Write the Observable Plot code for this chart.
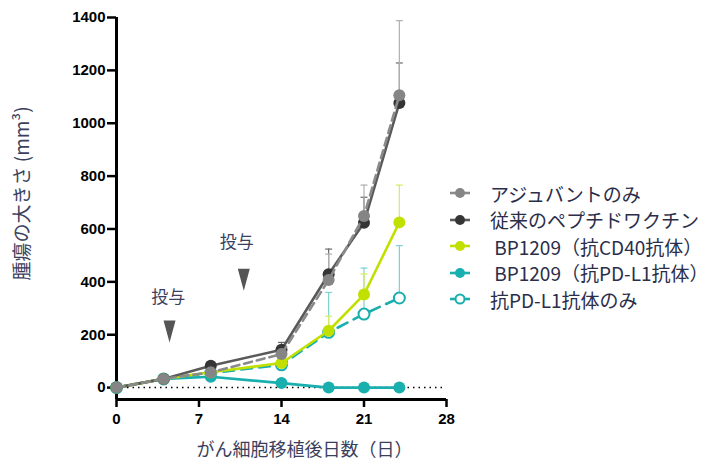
<!DOCTYPE html>
<html><head><meta charset="utf-8">
<script src="https://cdn.jsdelivr.net/npm/d3@7"></script>
<script src="https://cdn.jsdelivr.net/npm/@observablehq/plot@0.6"></script>
<style>
body{margin:0;background:#fff;}
#wrap{position:relative;width:709px;height:462px;overflow:hidden;}
#legend{position:absolute;left:450px;top:180px;font-family:"Noto Sans CJK JP";font-size:19px;color:#2b2e4a;}
.row{height:26.5px;display:flex;align-items:center;white-space:pre;}
.row svg{margin-right:20px;flex:none;}
</style></head><body><div id="wrap"></div>
<script>
// ---- data ----
const days = [0, 4, 8, 14, 18, 21, 24];
const seriesNames = ["アジュバントのみ", "従来のペプチドワクチン", " BP1209（抗CD40抗体）", " BP1209（抗PD-L1抗体）", "抗PD-L1抗体のみ"];
const adjuvant   = [0, 33, 58, 127, 407, 649, 1106];
const peptide    = [0, 33, 83, 143, 429, 624, 1077];
const cd40       = [0, 33, 58, 93, 215, 352, 625];
const pdl1Bp     = [0, 33, 41, 17, 0, 0, 0];
const pdl1Only   = [0, 33, 55, 86, 209, 278, 339];
// upper end of error bars (null = not visible)
const adjuvantUpper = [null, null, null, 155, 505, 766, 1388];
const peptideUpper  = [null, null, null, 171, 524, 720, 1228];
const cd40Upper     = [null, null, null, null, 270, 430, 766];
const pdl1BpUpper   = [null, null, null, null, null, null, null];
const pdl1OnlyUpper = [null, null, null, null, 360, 452, 537];
const yTicks = [0, 200, 400, 600, 800, 1000, 1200, 1400];
const xTicks = [0, 7, 14, 21, 28];
const doseLabel = "投与";
const doseDays = [4.5, 10.8];
const doseArrowY = [212, 408];
const doseLabelDays = [4.4, 10.2];
const doseLabelY = [340, 548];
const xTitle = "がん細胞移植後日数（日）";
const yTitle = "腫瘍の大きさ (mm³)";

// ---- styles ----
const styles = [
  {line: "#8a8a8a", dot: "#858585", err: "#b0b0b0", dash: "8,5", open: false},
  {line: "#5a5a5a", dot: "#353535", err: "#6a6a6a", dash: null, open: false},
  {line: "#c2e000", dot: "#c2e000", err: "#d6ec66", dash: null, open: false},
  {line: "#1aafaf", dot: "#1aafaf", err: "#7fd2d2", dash: null, open: false},
  {line: "#1aafaf", dot: "#1aafaf", err: "#7fd2d2", dash: "11,7", open: true}
];
const values = [adjuvant, peptide, cd40, pdl1Bp, pdl1Only];
const uppers = [adjuvantUpper, peptideUpper, cd40Upper, pdl1BpUpper, pdl1OnlyUpper];

const table = seriesNames.map((name, i) => days.map((d, j) => ({series: i, name, day: d, value: values[i][j], upper: uppers[i][j]})));
const drawOrder = [3, 4, 2, 1, 0];

const capSymbol = {draw(ctx) { ctx.moveTo(-3.5, 0); ctx.lineTo(3.5, 0); }};
const downTri = {draw(ctx) { ctx.moveTo(-6, -11); ctx.lineTo(6, -11); ctx.lineTo(0, 11); ctx.closePath(); }};

const marks = [
  Plot.ruleY([0], {stroke: "#000", strokeWidth: 1.5, strokeDasharray: "1.5,4"}),
  Plot.ruleX([0], {stroke: "#000", strokeWidth: 3}),
  Plot.ruleY([-45], {stroke: "#000", strokeWidth: 3}),
  Plot.axisY({ticks: yTicks, tickSize: 9, tickPadding: 2, tickFormat: d => String(d), label: null,
    fontSize: 15, fontWeight: "bold", fontFamily: "Liberation Sans", stroke: "#000", strokeWidth: 2.5, fill: "#000"}),
  Plot.axisX({ticks: xTicks, tickSize: 8, tickPadding: 6, tickFormat: d => String(d), label: null,
    fontSize: 15, fontWeight: "bold", fontFamily: "Liberation Sans", stroke: "#000", strokeWidth: 2.5, fill: "#000"}),
];
for (const i of drawOrder) {
  const s = styles[i];
  const errs = table[i].filter(d => d.upper != null);
  marks.push(Plot.ruleX(errs, {x: "day", y1: "value", y2: "upper", stroke: s.err, strokeWidth: 1.2}));
  marks.push(Plot.dot(errs, {x: "day", y: "upper", symbol: capSymbol, stroke: s.err, strokeWidth: 1.2}));
}
for (const i of drawOrder) {
  const s = styles[i];
  marks.push(Plot.line(table[i], {x: "day", y: "value", stroke: s.line, strokeWidth: 2.6, strokeDasharray: s.dash}));
  marks.push(Plot.dot(table[i], {x: "day", y: "value", r: s.open ? 5.5 : 6, fill: s.open ? "#fff" : s.dot,
    stroke: s.dot, strokeWidth: s.open ? 2 : 0}));
}
marks.push(Plot.dot(doseDays.map((d, j) => ({day: d, v: doseArrowY[j]})), {x: "day", y: "v", symbol: downTri, fill: "#555", stroke: "none"}));
marks.push(Plot.text(doseLabelDays.map((d, j) => ({day: d, v: doseLabelY[j]})), {x: "day", y: "v", text: () => doseLabel,
  fontSize: 17, fontFamily: "Noto Sans CJK JP", fill: "#3b3f5e"}));
marks.push(Plot.text([xTitle], {text: d => d, frameAnchor: "bottom", lineAnchor: "middle", dx: 23, dy: 51, fontSize: 18, fontFamily: "Noto Sans CJK JP", fill: "#3b3f5e"}));
marks.push(Plot.text([yTitle], {text: d => d, frameAnchor: "left", textAnchor: "middle", lineAnchor: "middle", rotate: -90, dx: -94, dy: -15, fontSize: 19, fontFamily: "Noto Sans CJK JP", fill: "#3b3f5e"}));

const plot = Plot.plot({
  width: 709, height: 462,
  marginLeft: 116, marginRight: 263, marginTop: 17, marginBottom: 63,
  x: {domain: [0, 28]},
  y: {domain: [-45, 1400]},
  style: {background: "white", overflow: "visible"},
  marks
});
const wrap = document.getElementById("wrap");
wrap.appendChild(plot);

// legend
const legend = document.createElement("div");
legend.id = "legend";
seriesNames.forEach((name, i) => {
  const s = styles[i];
  const row = document.createElement("div");
  row.className = "row";
  row.innerHTML = `<svg width="20" height="14"><line x1="0" x2="20" y1="7" y2="7" stroke="${s.line}" stroke-width="2.6"/>` +
    `<circle cx="10" cy="7" r="${s.open ? 4.5 : 5}" fill="${s.open ? '#fff' : s.dot}" stroke="${s.dot}" stroke-width="${s.open ? 2 : 0}"/></svg>`;
  const span = document.createElement("span");
  span.textContent = name;
  row.appendChild(span);
  legend.appendChild(row);
});
wrap.appendChild(legend);
</script></body></html>
